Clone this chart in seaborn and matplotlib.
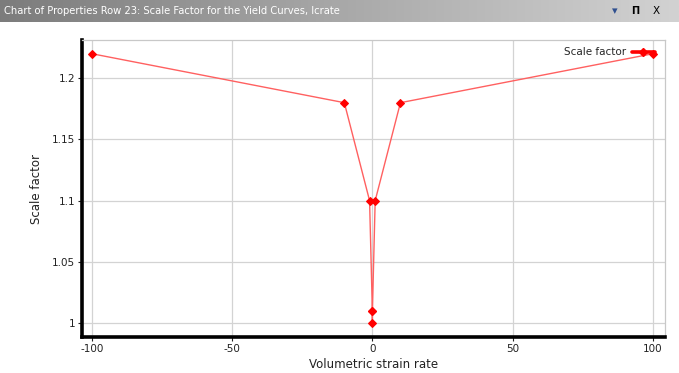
import numpy as np
import pandas as pd
import matplotlib
matplotlib.use("Agg")
import matplotlib.pyplot as plt
import seaborn as sns
from matplotlib.lines import Line2D
from matplotlib.colors import LinearSegmentedColormap

strain_rate = [-100, -10, -1, -0.01, 0, 0.01, 1, 10, 100]
scale_factor = [1.22, 1.18, 1.10, 1.01, 1.00, 1.01, 1.10, 1.18, 1.22]
x_ticks = [-100, -50, 0, 50, 100]
y_ticks = [1.0, 1.05, 1.1, 1.15, 1.2]
y_tick_labels = ["1", "1.05", "1.1", "1.15", "1.2"]
title_text = "Chart of Properties Row 23: Scale Factor for the Yield Curves, lcrate"
series_name = "Scale factor"

df = pd.DataFrame({"x": strain_rate, "y": scale_factor})

sns.set_style("white")
plt.rcParams["font.family"] = ["DejaVu Sans"]

fig = plt.figure(figsize=(6.79, 3.73), dpi=100)
fig.patch.set_facecolor("white")

# title bar with gradient
tb = fig.add_axes([0, 1 - 22 / 373, 1, 22 / 373])
grad = np.linspace(0, 1, 256).reshape(1, -1)
cmap = LinearSegmentedColormap.from_list("tb", ["#7c7c7c", "#a8a8a8", "#d2d2d2"])
tb.imshow(grad, aspect="auto", cmap=cmap, extent=[0, 1, 0, 1])
tb.set_xlim(0, 1); tb.set_ylim(0, 1)
tb.axis("off")
tb.text(0.006, 0.5, title_text, color="white", fontsize=7.2, va="center", ha="left")
tb.text(0.905, 0.5, "\u25be", color="#2f4f8f", fontsize=8, va="center", ha="center")
tb.text(0.936, 0.5, "\u03a0", color="black", fontsize=7, va="center", ha="center", fontweight="bold")
tb.text(0.966, 0.5, "X", color="black", fontsize=7.5, va="center", ha="center")

ax = fig.add_axes([82 / 679, 1 - 337 / 373, (665 - 82) / 679, (337 - 40) / 373])
sns.lineplot(data=df, x="x", y="y", sort=False, ax=ax, color="#ff6060", lw=1.0,
             marker="D", markersize=4, markerfacecolor="red", markeredgecolor="red",
             estimator=None, zorder=3)

ax.set_xlim(-103.5, 104.3)
ax.set_ylim(0.9886, 1.2312)
ax.set_xticks(x_ticks)
ax.set_xticklabels([str(t) for t in x_ticks])
ax.set_yticks(y_ticks)
ax.set_yticklabels(y_tick_labels)
ax.grid(True, color="#d3d3d3", lw=0.9)
ax.set_axisbelow(True)
ax.tick_params(axis="both", labelsize=7.5, colors="#222222", length=3, width=0.8,
               direction="out", bottom=True, left=True, pad=2)
ax.set_xlabel("Volumetric strain rate", fontsize=8.5, color="#222222", labelpad=3)
ax.set_ylabel("Scale factor", fontsize=8.5, color="#222222", labelpad=6)

for s in ["left", "bottom"]:
    ax.spines[s].set_color("black")
    ax.spines[s].set_linewidth(2.6)
for s in ["top", "right"]:
    ax.spines[s].set_color("#c8c8c8")
    ax.spines[s].set_linewidth(0.9)

handle = Line2D([0], [0], color="red", lw=2.6, marker="D", markersize=4,
                markerfacecolor="red", markeredgecolor="red")
leg = ax.legend([handle], [series_name], loc="upper right", frameon=False,
                markerfirst=False, fontsize=7.5, handlelength=2.2,
                bbox_to_anchor=(0.995, 1.0), borderaxespad=0.3, handletextpad=0.6)

fig.savefig("out.png", dpi=100)
